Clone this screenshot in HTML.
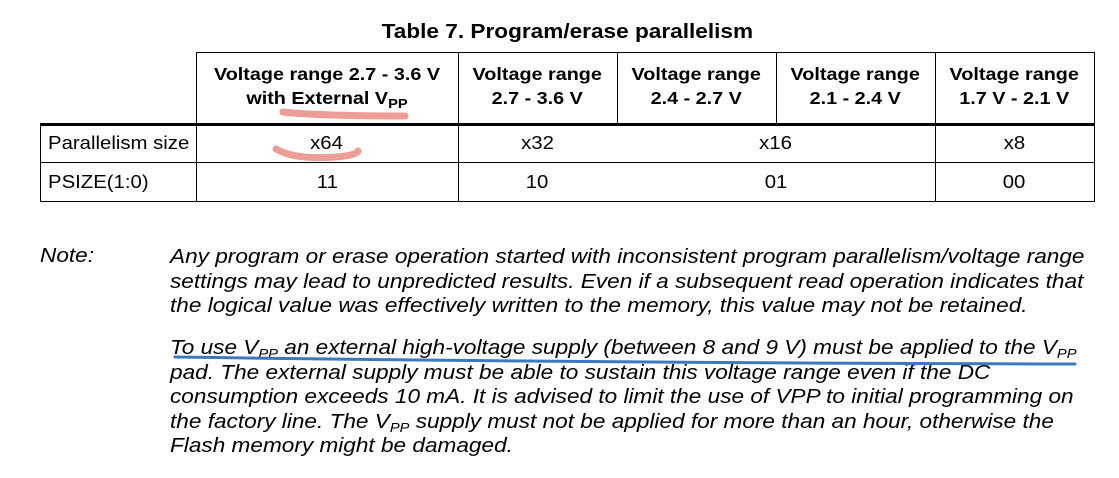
<!DOCTYPE html>
<html><head><meta charset="utf-8"><style>
body{margin:0;width:1119px;height:478px;background:#fff;position:relative;overflow:hidden;font-family:"Liberation Sans",Arial,sans-serif;color:#000}
.a{position:absolute;white-space:nowrap}
.s{display:inline-block;transform:scaleX(1.13)}
.l .s{transform-origin:0 0}
.t{font-weight:bold;font-size:20px;text-align:center}
.h{font-weight:bold;font-size:17.5px;text-align:center;line-height:24px}
.c{font-size:18px;text-align:center}
.n{font-style:italic;font-size:20px}
sub{font-size:13px;vertical-align:-4px;line-height:0}
.ln{position:absolute;background:#000}
</style></head><body>
<div class="a t" style="left:380px;top:21px;width:375px"><span class="s">Table 7. Program/erase parallelism</span></div>
<div>
<div class="ln" style="left:196px;top:52px;width:899px;height:1px"></div>
<div class="ln" style="left:40px;top:123px;width:1055px;height:3px"></div>
<div class="ln" style="left:40px;top:162px;width:1055px;height:1px"></div>
<div class="ln" style="left:40px;top:201px;width:1055px;height:1px"></div>
<div class="ln" style="left:40px;top:123px;width:1px;height:79px"></div>
<div class="ln" style="left:196px;top:52px;width:1px;height:150px"></div>
<div class="ln" style="left:458px;top:52px;width:1px;height:150px"></div>
<div class="ln" style="left:617px;top:52px;width:1px;height:72px"></div>
<div class="ln" style="left:776px;top:52px;width:1px;height:72px"></div>
<div class="ln" style="left:935px;top:52px;width:1px;height:150px"></div>
<div class="ln" style="left:1094px;top:52px;width:1px;height:150px"></div>
<div class="a h" style="left:196px;top:62px;width:262px"><span class="s">Voltage range 2.7 - 3.6 V<br>with External V<sub>PP</sub></span></div>
<div class="a h" style="left:458px;top:62px;width:159px"><span class="s">Voltage range<br>2.7 - 3.6 V</span></div>
<div class="a h" style="left:617px;top:62px;width:159px"><span class="s">Voltage range<br>2.4 - 2.7 V</span></div>
<div class="a h" style="left:776px;top:62px;width:159px"><span class="s">Voltage range<br>2.1 - 2.4 V</span></div>
<div class="a h" style="left:935px;top:62px;width:159px"><span class="s">Voltage range<br>1.7 V - 2.1 V</span></div>
<div class="a c l" style="left:48px;top:133px"><span class="s">Parallelism size</span></div>
<div class="a c" style="left:196px;top:133px;width:262px"><span class="s">x64</span></div>
<div class="a c" style="left:458px;top:133px;width:159px"><span class="s">x32</span></div>
<div class="a c" style="left:617px;top:133px;width:318px"><span class="s">x16</span></div>
<div class="a c" style="left:935px;top:133px;width:159px"><span class="s">x8</span></div>
<div class="a c l" style="left:48px;top:172px"><span class="s">PSIZE(1:0)</span></div>
<div class="a c" style="left:196px;top:172px;width:262px"><span class="s">11</span></div>
<div class="a c" style="left:458px;top:172px;width:159px"><span class="s">10</span></div>
<div class="a c" style="left:617px;top:172px;width:318px"><span class="s">01</span></div>
<div class="a c" style="left:935px;top:172px;width:159px"><span class="s">00</span></div>
</div>
<div class="a n l" style="left:40px;top:245px"><span class="s">Note:</span></div>
<div class="a n l" style="left:170px;top:245px;line-height:24.5px"><span class="s">Any program or erase operation started with inconsistent program parallelism/voltage range<br>settings may lead to unpredicted results. Even if a subsequent read operation indicates that<br>the logical value was effectively written to the memory, this value may not be retained.</span></div>
<div class="a n l" style="left:170px;top:336px;line-height:24.5px"><span class="s">To use V<sub>PP</sub> an external high-voltage supply (between 8 and 9 V) must be applied to the V<sub>PP</sub><br>pad. The external supply must be able to sustain this voltage range even if the DC<br>consumption exceeds 10 mA. It is advised to limit the use of VPP to initial programming on<br>the factory line. The V<sub>PP</sub> supply must not be applied for more than an hour, otherwise the<br>Flash memory might be damaged.</span></div>
<svg class="a" style="left:0;top:0" width="1119" height="478">
<path d="M283 112 Q320 116 405 116" stroke="#e88c84" stroke-width="7" fill="none" stroke-linecap="round" opacity="0.85"/>
<path d="M276 149 Q295 160 335 157 Q355 156 358 151" stroke="#e88c84" stroke-width="7" fill="none" stroke-linecap="round" opacity="0.85"/>
<path d="M175 357 Q600 363 1075 364" stroke="#3b78c0" stroke-width="3" fill="none" stroke-linecap="round"/>
</svg>
</body></html>
